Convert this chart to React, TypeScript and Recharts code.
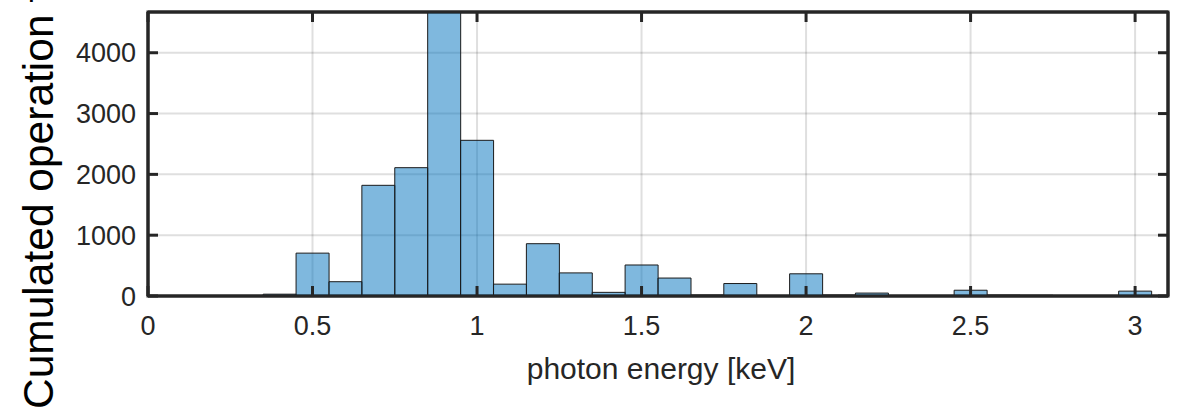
import React from "react";
import {
  BarChart,
  Bar,
  XAxis,
  YAxis,
  CartesianGrid,
  Label,
  ReferenceArea,
} from "recharts";

// Histogram bin centres (keV), bin width 0.1
const energies = [
  0.0, 0.1, 0.2, 0.3, 0.4, 0.5, 0.6, 0.7, 0.8, 0.9, 1.0, 1.1, 1.2, 1.3, 1.4,
  1.5, 1.6, 1.7, 1.8, 1.9, 2.0, 2.1, 2.2, 2.3, 2.4, 2.5, 2.6, 2.7, 2.8, 2.9,
  3.0,
];
// Cumulated operation time per bin
const counts = [
  0, 0, 0, 0, 30, 705, 235, 1820, 2110, 4850, 2560, 195, 860, 380, 60, 510,
  295, 15, 205, 0, 365, 15, 48, 0, 0, 95, 15, 12, 0, 0, 80,
];
const xTicks = [0, 0.5, 1, 1.5, 2, 2.5, 3];
const yTicks = [0, 1000, 2000, 3000, 4000];
const xDomain = [0, 3.1];
const yDomain = [0, 4670];

const data = energies.map((e, i) => ({ e, v: counts[i] }));

const FONT = "'Liberation Sans', Arial, Helvetica, sans-serif";
const INK = "#262626";
const TICK_LEN = 10;

const BottomTick = (props: any) => {
  const { x, y, payload } = props;
  return (
    <g>
      <line x1={x} x2={x} y1={y} y2={y - TICK_LEN} stroke={INK} strokeWidth={3} />
      <text
        x={x}
        y={y + 39}
        textAnchor="middle"
        fontFamily={FONT}
        fontSize={27}
        fill={INK}
      >
        {String(payload.value)}
      </text>
    </g>
  );
};

const TopTick = (props: any) => {
  const { x, y } = props;
  return <line x1={x} x2={x} y1={y} y2={y + TICK_LEN} stroke={INK} strokeWidth={3} />;
};

const LeftTick = (props: any) => {
  const { x, y, payload } = props;
  return (
    <g>
      <line x1={x} x2={x + TICK_LEN} y1={y} y2={y} stroke={INK} strokeWidth={3} />
      <text
        x={x - 12}
        y={y}
        dy="0.36em"
        textAnchor="end"
        fontFamily={FONT}
        fontSize={27}
        fill={INK}
      >
        {String(payload.value)}
      </text>
    </g>
  );
};

const RightTick = (props: any) => {
  const { x, y } = props;
  return <line x1={x} x2={x - TICK_LEN} y1={y} y2={y} stroke={INK} strokeWidth={3} />;
};

const YLabel = (props: any) => {
  const vb = props.viewBox || { x: 0, y: 0, width: 148, height: 284 };
  const lx = vb.x + 53;
  const ly = vb.y + vb.height + 113;
  return (
    <text
      x={lx}
      y={ly}
      transform={`rotate(-90, ${lx}, ${ly})`}
      textAnchor="start"
      fontFamily={FONT}
      fontSize={42.5}
      fill="#000"
    >
      Cumulated operation time [s]
    </text>
  );
};

const XLabel = (props: any) => {
  const vb = props.viewBox || { x: 148, y: 296, width: 1020, height: 112 };
  return (
    <text
      x={vb.x + vb.width / 2 + 3}
      y={vb.y + 83}
      textAnchor="middle"
      fontFamily={FONT}
      fontSize={30}
      fill={INK}
    >
      photon energy [keV]
    </text>
  );
};

export default function App() {
  return (
    <div style={{ position: "absolute", left: 0, top: 0, width: 1184, height: 408, background: "#fff" }}>
      <BarChart
        width={1184}
        height={408}
        data={data}
        margin={{ top: 11, right: 15, bottom: 0, left: 0 }}
        barCategoryGap={0}
        barGap={0}
      >
        <CartesianGrid
          stroke="#262626"
          strokeOpacity={0.15}
          strokeWidth={2}
          verticalValues={xTicks}
          horizontalValues={yTicks}
        />
        <XAxis
          dataKey="e"
          type="number"
          domain={xDomain}
          ticks={xTicks}
          interval={0}
          allowDataOverflow
          height={112}
          tickSize={0}
          tickMargin={0}
          tickLine={false}
          tick={<BottomTick />}
          axisLine={{ stroke: INK, strokeWidth: 3 }}
        >
          <Label content={<XLabel />} />
        </XAxis>
        <XAxis
          xAxisId="top"
          orientation="top"
          dataKey="e"
          type="number"
          domain={xDomain}
          ticks={xTicks}
          interval={0}
          allowDataOverflow
          height={1}
          tickSize={0}
          tickMargin={0}
          tickLine={false}
          tick={<TopTick />}
          axisLine={{ stroke: INK, strokeWidth: 3 }}
        />
        <YAxis
          type="number"
          domain={yDomain}
          ticks={yTicks}
          interval={0}
          allowDataOverflow
          width={148}
          tickSize={0}
          tickMargin={0}
          tickLine={false}
          tick={<LeftTick />}
          axisLine={{ stroke: INK, strokeWidth: 3 }}
        >
          <Label content={<YLabel />} />
        </YAxis>
        <YAxis
          yAxisId="right"
          orientation="right"
          type="number"
          domain={yDomain}
          ticks={yTicks}
          interval={0}
          allowDataOverflow
          width={1}
          tickSize={0}
          tickMargin={0}
          tickLine={false}
          tick={<RightTick />}
          axisLine={{ stroke: INK, strokeWidth: 3 }}
        />
        <Bar
          dataKey="v"
          fill="#0072BD"
          fillOpacity={0.5}
          stroke="#1a1a1a"
          strokeWidth={1}
          isAnimationActive={false}
        />
        <ReferenceArea
          x1={xDomain[0]}
          x2={xDomain[1]}
          y1={yDomain[0]}
          y2={yDomain[1]}
          fill="none"
          stroke={INK}
          strokeWidth={3}
          ifOverflow="visible"
        />
      </BarChart>
    </div>
  );
}
